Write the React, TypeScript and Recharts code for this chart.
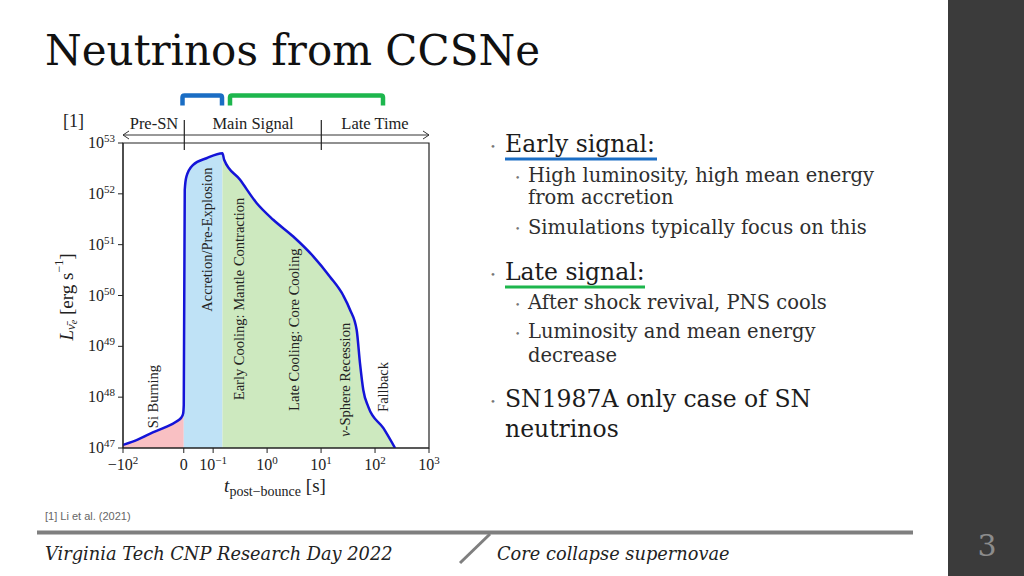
import { ComposedChart, Area, Line, XAxis, YAxis, ReferenceArea, ReferenceDot } from 'recharts';

// time after bounce [s] and log10 of the anti-nu_e luminosity [erg/s]
const timeS = [-100, -75, -56, -30, -12, -4, -1, 0, 0.0298, 0.032, 0.0426, 0.0754, 0.149, 0.16, 0.313, 0.638, 1.3, 3.05, 7.16, 14.6, 25.8, 34.4, 45.7, 52.6, 60.6, 75.1, 143, 235];
const logLum = [47.06, 47.17, 47.28, 47.41, 47.52, 47.6, 47.68, 47.85, 52.08, 52.34, 52.57, 52.7, 52.8, 52.67, 52.28, 51.82, 51.49, 51.16, 50.77, 50.37, 50.0, 49.72, 49.32, 48.67, 48.14, 47.81, 47.39, 47.0];

// phase boundaries [s]
const bounceT = 0;
const explosionT = 0.149;

const xTickTimes = [-100, 0, 0.1, 1, 10, 100, 1000];
const xTickBase = ['\u221210', '0', '10', '10', '10', '10', '10'];
const xTickExp = ['2', '', '\u22121', '0', '1', '2', '3'];
const yTickExp = [47, 48, 49, 50, 51, 52, 53];

const regionNames = ['Si Burning', 'Accretion/Pre-Explosion', 'Early Cooling: Mantle Contraction', 'Late Cooling: Core Cooling', '-Sphere Recession', 'Fallback'];
const regionT = [-50.6, 0.0754, 0.303, 3.14, 27.7, 142.6];
const regionL = [47.39, 49.68, 47.94, 47.73, 47.22, 47.71];

// piecewise axis: linear for t <= 0, log10 for t > 0
const ZERO_U = -1.544;
const PRE_SPAN = 1.126;
const toAxis = (t: number) => (t <= 0 ? ZERO_U + (t / 100) * PRE_SPAN : Math.max(Math.log10(t), ZERO_U));

const rows = timeS.map((t, i) => ({
  u: toAxis(t),
  lum: logLum[i],
  pink: t <= bounceT ? logLum[i] : null,
  blue: t >= bounceT && t <= explosionT ? logLum[i] : null,
  green: t >= explosionT ? logLum[i] : null,
}));

const xTicks = xTickTimes.map(toAxis);
const serif = '"Liberation Serif", serif';
const slideFont = '"DejaVu Serif", serif';

function XTick({ x, y, index }: any) {
  return (
    <text x={x} y={y + 15} textAnchor="middle" fontFamily={serif} fontSize={16} fill="#222">
      <tspan>{xTickBase[index]}</tspan>
      {xTickExp[index] && (
        <tspan dy={-6} fontSize={11}>
          {xTickExp[index]}
        </tspan>
      )}
    </text>
  );
}

function YTick({ x, y, payload }: any) {
  return (
    <text x={x - 1} y={y + 5} textAnchor="end" fontFamily={serif} fontSize={16} fill="#222">
      <tspan>10</tspan>
      <tspan dy={-6} fontSize={11}>
        {payload.value}
      </tspan>
    </text>
  );
}

function RegionLabel({ cx, cy, index }: any) {
  return (
    <text
      transform={`rotate(-90 ${cx} ${cy})`}
      x={cx}
      y={cy}
      dominantBaseline="central"
      fontFamily={serif}
      fontSize={14.5}
      fill="#222"
    >
      {index === 4 && <tspan fontStyle="italic">ν</tspan>}
      {regionNames[index]}
    </text>
  );
}

function Slide() {
  const body = '#1c1c1c';
  const sub = '#2e2e2e';
  return (
    <svg width={1024} height={576} style={{ position: 'absolute', left: 0, top: 0 }}>
      <rect x={0} y={0} width={1024} height={576} fill="#fff" />
      <rect x={948} y={0} width={76} height={576} fill="#3b3b3b" />
      <text x={987} y={556} textAnchor="middle" fontFamily={slideFont} fontSize={30} fill="#8c8c8c">3</text>

      <text x={45} y={65} fontFamily={slideFont} fontSize={42} fill="#111">Neutrinos from CCSNe</text>

      {/* top phase annotation */}
      <text x={63} y={127} fontFamily={serif} fontSize={18} fill="#222">[1]</text>
      <path d="M182.5,105.5 V97.5 Q182.5,95.5 184.5,95.5 H220 Q222,95.5 222,97.5 V105.5" fill="none" stroke="#1a6dc4" strokeWidth={4.5} />
      <path d="M230,105.5 V97.5 Q230,95.5 232,95.5 H381 Q383,95.5 383,97.5 V105.5" fill="none" stroke="#1db64d" strokeWidth={4.5} />
      <line x1={123} y1={135} x2={429} y2={135} stroke="#333" strokeWidth={1} />
      <path d="M129,131 L123,135 L129,139 M423,131 L429,135 L423,139" fill="none" stroke="#333" strokeWidth={1} />
      <line x1={184.3} y1={120} x2={184.3} y2={150} stroke="#222" strokeWidth={1.2} />
      <line x1={321.3} y1={120} x2={321.3} y2={150} stroke="#222" strokeWidth={1.2} />
      <text x={154} y={129} textAnchor="middle" fontFamily={serif} fontSize={16.5} fill="#222">Pre-SN</text>
      <text x={253} y={129} textAnchor="middle" fontFamily={serif} fontSize={16.5} fill="#222">Main Signal</text>
      <text x={375} y={129} textAnchor="middle" fontFamily={serif} fontSize={16.5} fill="#222">Late Time</text>

      {/* axis titles */}
      <text transform="rotate(-90 66 297)" x={66} y={297} textAnchor="middle" dominantBaseline="central" fontFamily={serif} fontSize={19} fill="#222">
        <tspan fontStyle="italic">L</tspan>
        <tspan dy={4} fontSize={13} fontStyle="italic">ν̄</tspan>
        <tspan dy={3} fontSize={10} fontStyle="italic">e</tspan>
        <tspan dy={-7}> [erg s</tspan>
        <tspan dy={-7} fontSize={12}>−1</tspan>
        <tspan dy={7}>]</tspan>
      </text>
      <text x={275} y={492} textAnchor="middle" fontFamily={serif} fontSize={19} fill="#222">
        <tspan fontStyle="italic">t</tspan>
        <tspan dy={4} fontSize={14}>post−bounce</tspan>
        <tspan dy={-4}> [s]</tspan>
      </text>

      {/* bullets */}
      <g fontFamily={slideFont} fill={body}>
        <text x={490} y={150} fontSize={10} fill="#777">•</text>
        <text x={505} y={152} fontSize={23.5}>Early signal:</text>
        <rect x={505} y={157.5} width={152} height={3} fill="#1a6dc4" />
        <text x={515} y={181} fontSize={9} fill="#777">•</text>
        <text x={528} y={182} fontSize={19.5} fill={sub}>High luminosity, high mean energy</text>
        <text x={528} y={204} fontSize={19.5} fill={sub}>from accretion</text>
        <text x={515} y={232} fontSize={9} fill="#777">•</text>
        <text x={528} y={234} fontSize={19.5} fill={sub}>Simulations typically focus on this</text>

        <text x={490} y={278} fontSize={10} fill="#777">•</text>
        <text x={505} y={280} fontSize={23.5}>Late signal:</text>
        <rect x={505} y={285.5} width={140} height={3} fill="#1db64d" />
        <text x={515} y={308} fontSize={9} fill="#777">•</text>
        <text x={528} y={309} fontSize={19.5} fill={sub}>After shock revival, PNS cools</text>
        <text x={515} y={337} fontSize={9} fill="#777">•</text>
        <text x={528} y={338} fontSize={19.5} fill={sub}>Luminosity and mean energy</text>
        <text x={528} y={362} fontSize={19.5} fill={sub}>decrease</text>

        <text x={490} y={405} fontSize={10} fill="#777">•</text>
        <text x={505} y={407} fontSize={23.5}>SN1987A only case of SN</text>
        <text x={505} y={437} fontSize={23.5}>neutrinos</text>
      </g>

      {/* footer */}
      <text x={45} y={520} fontFamily='"Liberation Sans", Arial, sans-serif' fontSize={11} fill="#666">[1] Li et al. (2021)</text>
      <rect x={37} y={530.5} width={876} height={4} fill="#7f7f7f" />
      <line x1={460} y1={563} x2={490} y2={534} stroke="#7f7f7f" strokeWidth={3} />
      <text x={45} y={560} fontFamily={slideFont} fontStyle="italic" fontSize={17.8} fill="#222">Virginia Tech CNP Research Day 2022</text>
      <text x={497} y={560} fontFamily={slideFont} fontStyle="italic" fontSize={17.8} fill="#222">Core collapse supernovae</text>
    </svg>
  );
}

export default function App() {
  return (
    <div style={{ position: 'absolute', left: 0, top: 0, width: 1024, height: 576, overflow: 'hidden', background: '#fff' }}>
      <Slide />
      <div style={{ position: 'absolute', left: 0, top: 0 }}>
        <ComposedChart width={470} height={510} data={rows} margin={{ top: 143, right: 41, bottom: 32, left: 63 }}>
          <XAxis
            dataKey="u"
            type="number"
            domain={[toAxis(-100), toAxis(1000)]}
            ticks={xTicks}
            tick={<XTick />}
            tickSize={5}
            height={30}
            stroke="#222"
            interval={0}
            allowDataOverflow
          />
          <YAxis
            type="number"
            domain={[47, 53]}
            ticks={yTickExp}
            tick={<YTick />}
            tickSize={5}
            width={60}
            stroke="#222"
            interval={0}
            allowDataOverflow
          />
          <Area dataKey="pink" type="monotone" fill="#f9c0c3" fillOpacity={1} stroke="none" isAnimationActive={false} connectNulls={false} />
          <Area dataKey="blue" type="monotone" fill="#bfe2f6" fillOpacity={1} stroke="none" isAnimationActive={false} connectNulls={false} />
          <Area dataKey="green" type="monotone" fill="#cde9bf" fillOpacity={1} stroke="none" isAnimationActive={false} connectNulls={false} />
          <Line dataKey="lum" type="monotone" stroke="#1414d8" strokeWidth={2.5} dot={false} isAnimationActive={false} />
          <ReferenceArea x1={toAxis(-100)} x2={toAxis(1000)} y1={47} y2={53} fill="none" stroke="#222" strokeWidth={1.2} />
          {regionNames.map((name, i) => (
            <ReferenceDot
              key={name}
              x={toAxis(regionT[i])}
              y={regionL[i]}
              r={0}
              shape={(p: any) => <RegionLabel {...p} index={i} />}
            />
          ))}
        </ComposedChart>
      </div>
    </div>
  );
}
